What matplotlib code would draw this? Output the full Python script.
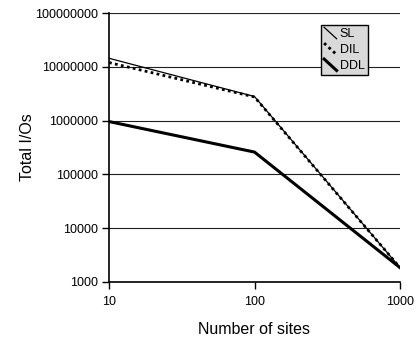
import matplotlib
matplotlib.use("Agg")
import matplotlib.pyplot as plt
from matplotlib.legend_handler import HandlerLine2D
from matplotlib.lines import Line2D

plt.rcParams['font.family'] = ['Liberation Sans', 'DejaVu Sans']

sites = [10, 100, 1000]
sl = [14400000, 2800000, 1850]
dil = [12000000, 2750000, 1850]
ddl = [960000, 260000, 1850]
yticks = [1000, 10000, 100000, 1000000, 10000000, 100000000]
xticks = [10, 100, 1000]


class DiagHandler(HandlerLine2D):
    def create_artists(self, legend, orig_handle, xdescent, ydescent,
                       width, height, fontsize, trans):
        x0 = -xdescent + width * 0.0
        x1 = -xdescent + width * 1.0
        y0 = -ydescent + height * 1.1
        y1 = -ydescent + height * -0.1
        ln = Line2D([x0, x1], [y0, y1])
        self.update_prop(ln, orig_handle, legend)
        ln.set_transform(trans)
        return [ln]


fig = plt.figure(figsize=(4.17, 3.39), dpi=100)
ax = fig.add_axes([109/417, 1 - 282/339, (400-109)/417, (282-13)/339])

ax.set_xscale('log')
ax.set_yscale('log')
ax.set_xlim(10, 1000)
ax.set_ylim(1000, 100000000)

for y in yticks:
    ax.axhline(y, color='#202020', lw=0.8, zorder=1)

l1, = ax.plot(sites, sl, color='black', lw=0.9, label='SL', zorder=3)
l2, = ax.plot(sites, dil, color='black', lw=2.0, ls=(0, (1, 1.2)), label='DIL', zorder=3)
l3, = ax.plot(sites, ddl, color='black', lw=2.2, label='DDL', zorder=3)

ax.set_xticks(xticks)
ax.set_xticklabels([str(v) for v in xticks])
ax.set_yticks(yticks)
ax.set_yticklabels([str(v) for v in yticks])
ax.minorticks_off()
ax.tick_params(axis='both', direction='out', length=5, width=1, labelsize=9, pad=3)
ax.tick_params(axis='x', pad=5)

for s in ['top', 'right']:
    ax.spines[s].set_visible(False)
for s in ['left', 'bottom']:
    ax.spines[s].set_linewidth(1.2)

ax.set_xlabel('Number of sites', fontsize=11.5)
ax.xaxis.set_label_coords(0.497, -0.150)
ax.set_ylabel('Total I/Os', fontsize=11.5)
ax.yaxis.set_label_coords(-0.255, 0.5)

leg = ax.legend(handles=[l1, l2, l3], loc='upper left', bbox_to_anchor=(0.7285, 0.955),
                handler_map={Line2D: DiagHandler()}, fontsize=9,
                frameon=True, fancybox=False, handlelength=1.0, handletextpad=0.25,
                borderpad=0.25, labelspacing=0.3, borderaxespad=0, handleheight=0.8)
leg.get_frame().set_facecolor('#d9d9d9')
leg.get_frame().set_edgecolor('black')
leg.get_frame().set_linewidth(1.0)
leg.get_frame().set_alpha(1)
leg.set_zorder(5)

fig.savefig('out.png', dpi=100)
